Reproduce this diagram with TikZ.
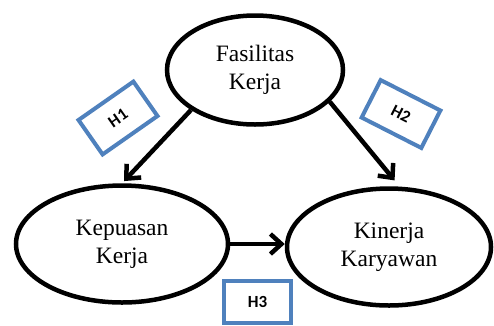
\documentclass[tikz,border=0pt]{standalone}
\usepackage{fontspec}
\setmainfont{Liberation Serif}
\newfontfamily\hfont{Carlito}
\usepackage{tikz}
\usetikzlibrary{shapes,arrows.meta,calc}
\definecolor{hblue}{HTML}{4F81BD}
\tikzstyle{line} = [draw, line width=4.5pt, -{Straight Barb[length=11pt,width=20pt]}]
\tikzstyle{var} = [draw, ellipse, line width=4.5pt, fill=white, align=center, inner sep=0pt, font=\fontsize{23.5}{28}\selectfont]
\tikzstyle{hyp} = [draw=hblue, rectangle, line width=4pt, fill=white, minimum width=67pt, minimum height=42pt, inner sep=0pt, font=\hfont\bfseries\fontsize{17}{17}\selectfont]

\begin{document}
\begin{tikzpicture}[x=1pt, y=-1pt]
        \useasboundingbox (0,0) rectangle (494,325);
        \node[var, minimum width=176pt, minimum height=109pt] (fas) at (255,70) {Fasilitas\\Kerja};
        \node[var, minimum width=212pt, minimum height=117pt] (kep) at (122,244) {Kepuasan\\Kerja};
        \node[var, minimum width=204pt, minimum height=117pt] (kin) at (389,247) {Kinerja\\Karyawan};
        \node[hyp, rotate=35] (h1) at (118,118) {H1};
        \node[hyp, rotate=-27] (h2) at (401,114) {H2};
        \node[hyp] (h3) at (257.5,302) {H3};
        \path[line, shorten >=3pt] (fas.212) -- (kep.north);
        \path[line, shorten >=8pt] (fas.337) -- (kin.80);
        \path[line] (kep.east) -- (kep.east -| kin.west);
    \end{tikzpicture}
\end{document}
